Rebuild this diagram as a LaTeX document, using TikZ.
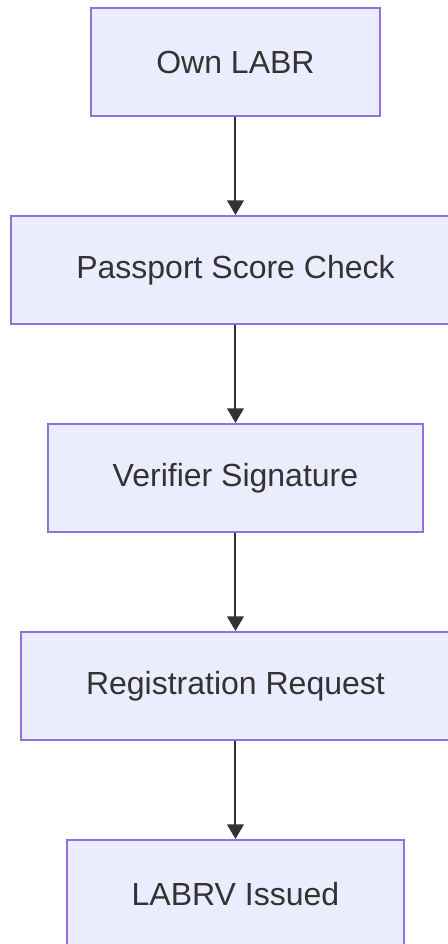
\documentclass[tikz,border=0pt]{standalone}
\usepackage{fontspec}
\setmainfont{Liberation Sans}
\usetikzlibrary{arrows.meta,positioning}
\definecolor{boxfill}{HTML}{ECECFF}
\definecolor{boxline}{HTML}{9370DB}
\definecolor{ink}{HTML}{333333}

\begin{document}
\begin{tikzpicture}[
  node distance=73.5pt,
  box/.style={draw=boxline, fill=boxfill, line width=1.5pt, text=ink,
              minimum height=81pt, inner xsep=48.75pt,
              font=\fontsize{24}{28}\selectfont},
  arrow/.style={-{Triangle[width=12.5pt,length=11pt]}, line width=1.5pt, draw=ink}
]
\useasboundingbox (0,0) rectangle (336pt,-708pt);
\node[box] (own) at (176.6pt,-46.5pt) {Own LABR};
\node[box, below=of own] (passport) {Passport Score Check};
\node[box, below=of passport] (verifier) {Verifier Signature};
\node[box, below=of verifier] (request) {Registration Request};
\node[box, below=of request] (issued) {LABRV Issued};
\draw[arrow] (own) -- (passport);
\draw[arrow] (passport) -- (verifier);
\draw[arrow] (verifier) -- (request);
\draw[arrow] (request) -- (issued);
\end{tikzpicture}
\end{document}
